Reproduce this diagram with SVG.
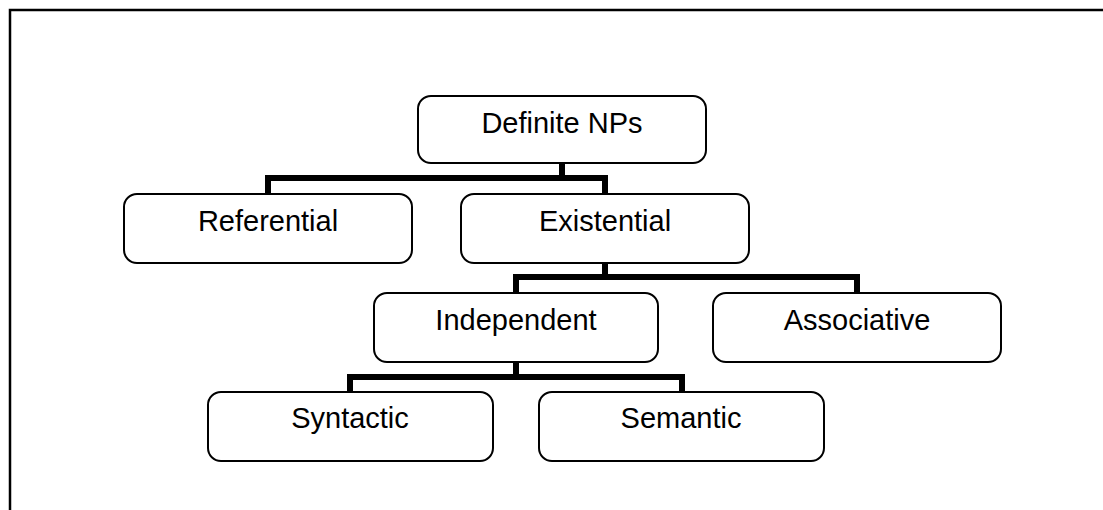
<svg xmlns="http://www.w3.org/2000/svg" width="1103" height="510" viewBox="0 0 1103 510">
<style>
.box{fill:#fff;stroke:#000;stroke-width:2}
.lbl{font-family:"Liberation Sans",Arial,sans-serif;font-size:29px;fill:#000;text-anchor:middle}
.con{fill:none;stroke:#000;stroke-width:6;stroke-linejoin:miter;stroke-linecap:butt}
</style>
<rect width="1103" height="510" fill="#fff"/>
<path d="M10 511 V10 H1104" fill="none" stroke="#000" stroke-width="2.5"/>
<g id="connectors">
<path class="con" d="M562 163 V178 M268 194 V178 H605 V194"/>
<path class="con" d="M605 263 V277 M516 293 V277 H857 V293"/>
<path class="con" d="M516 362 V377 M350 392 V377 H682 V392"/>
</g>
<g id="definite"><rect class="box" x="418" y="96" width="288" height="67" rx="13"/><text class="lbl" x="562" y="133">Definite NPs</text></g>
<g id="referential"><rect class="box" x="124" y="194" width="288" height="69" rx="13"/><text class="lbl" x="268" y="231">Referential</text></g>
<g id="existential"><rect class="box" x="461" y="194" width="288" height="69" rx="13"/><text class="lbl" x="605" y="231">Existential</text></g>
<g id="independent"><rect class="box" x="374" y="293" width="284" height="69" rx="13"/><text class="lbl" x="516" y="330">Independent</text></g>
<g id="associative"><rect class="box" x="713" y="293" width="288" height="69" rx="13"/><text class="lbl" x="857" y="330">Associative</text></g>
<g id="syntactic"><rect class="box" x="208" y="392" width="285" height="69" rx="13"/><text class="lbl" x="350" y="428">Syntactic</text></g>
<g id="semantic"><rect class="box" x="539" y="392" width="285" height="69" rx="13"/><text class="lbl" x="681" y="428">Semantic</text></g>
</svg>
